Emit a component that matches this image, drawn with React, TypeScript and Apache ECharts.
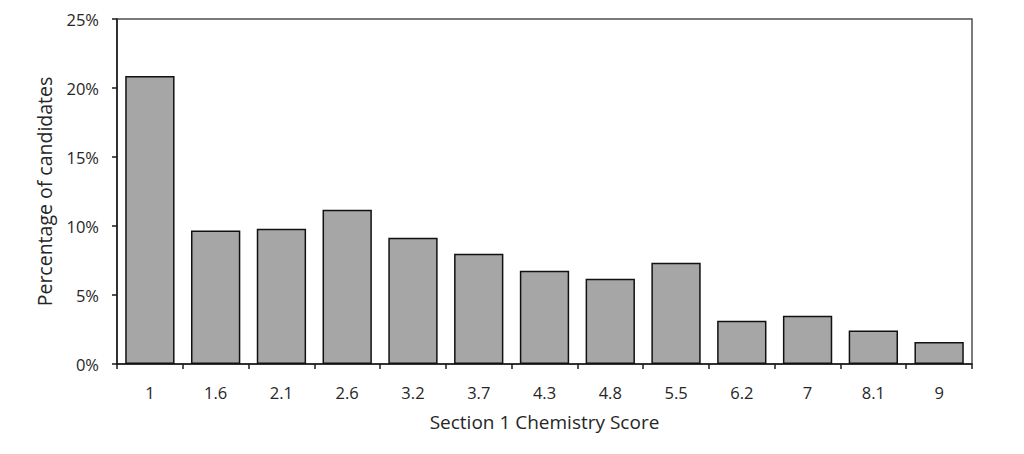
import React, { useEffect, useRef } from "react";
import * as echarts from "echarts";

const categories = ["1", "1.6", "2.1", "2.6", "3.2", "3.7", "4.3", "4.8", "5.5", "6.2", "7", "8.1", "9"];
const percentages = [20.87, 9.68, 9.8, 11.18, 9.15, 7.99, 6.76, 6.18, 7.34, 3.14, 3.5, 2.43, 1.59];
const yTicks = [0, 5, 10, 15, 20, 25];

const FONT = "'Open Sans', 'Liberation Sans', sans-serif";

export default function App() {
  const ref = useRef<HTMLDivElement>(null);
  useEffect(() => {
    if (!ref.current) return;
    const chart = echarts.init(ref.current, undefined, { renderer: "svg" });
    chart.setOption({
      animation: false,
      backgroundColor: "#ffffff",
      grid: {
        left: 117,
        top: 19,
        right: 52,
        bottom: 90,
        show: true,
        borderColor: "#505050",
        borderWidth: 1.5,
        backgroundColor: "transparent",
      },
      xAxis: {
        type: "category",
        data: categories,
        name: "Section 1 Chemistry Score",
        nameLocation: "middle",
        nameGap: 48,
        nameTextStyle: { fontFamily: FONT, fontSize: 19, color: "#262626" },
        axisLine: { lineStyle: { color: "#1a1a1a", width: 1.5 } },
        axisTick: { show: true, length: 5, inside: false, lineStyle: { color: "#1a1a1a", width: 1.5 } },
        axisLabel: { fontFamily: FONT, fontSize: 16.5, color: "#262626", margin: 20 },
      },
      yAxis: {
        type: "value",
        min: 0,
        max: 25,
        interval: 5,
        name: "Percentage of candidates",
        nameLocation: "middle",
        nameGap: 63,
        nameTextStyle: { fontFamily: FONT, fontSize: 19.5, color: "#262626" },
        axisLine: { show: true, lineStyle: { color: "#1a1a1a", width: 1.5 } },
        axisTick: { show: true, length: 5, lineStyle: { color: "#1a1a1a", width: 1.5 } },
        splitLine: { show: false },
        axisLabel: {
          fontFamily: FONT,
          fontSize: 16.5,
          color: "#262626",
          margin: 18,
          formatter: (v: number) => (yTicks.includes(v) ? v + "%" : ""),
        },
      },
      series: [
        {
          type: "bar",
          data: percentages,
          barCategoryGap: "25%",
          itemStyle: { color: "#a6a6a6", borderColor: "#111111", borderWidth: 1.5 },
        },
      ],
    });
    return () => chart.dispose();
  }, []);
  return (
    <div
      ref={ref}
      style={{ position: "fixed", left: 0, top: 0, width: 1024, height: 454, background: "#fff" }}
    />
  );
}
